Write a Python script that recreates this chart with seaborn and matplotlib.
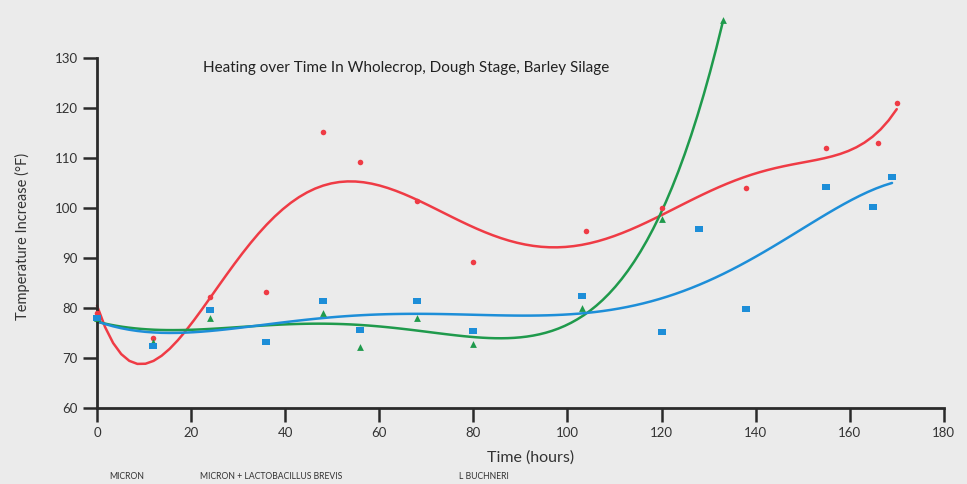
import numpy as np
import pandas as pd
import matplotlib
matplotlib.use("Agg")
import matplotlib.pyplot as plt
import seaborn as sns

# ---- data ----
micron_x = [0, 12, 24, 36, 48, 56, 68, 80, 104, 120, 138, 155, 166, 170]
micron_y = [79, 74, 82.2, 83.2, 115.2, 109.2, 101.4, 89.2, 95.4, 100, 104, 112, 113, 121]

brevis_x = [0, 12, 24, 48, 56, 68, 80, 103, 120, 133]
brevis_y = [78, 73.2, 78, 79, 72.2, 78, 72.8, 80, 97.8, 137.6]

buchneri_x = [0, 12, 24, 36, 48, 56, 68, 80, 103, 120, 128, 138, 155, 165, 169]
buchneri_y = [78, 72.4, 79.6, 73.2, 81.4, 75.6, 81.4, 75.4, 82.4, 75.2, 95.8, 79.8, 104.2, 100.2, 106.2]

series_names = ["MICRON", "MICRON + LACTOBACILLUS BREVIS", "L BUCHNERI"]
x_ticks = [0, 20, 40, 60, 80, 100, 120, 140, 160, 180]
y_ticks = [60, 70, 80, 90, 100, 110, 120, 130]
title = "Heating over Time In Wholecrop, Dough Stage, Barley Silage"

RED = "#ef3b45"
GREEN = "#1f9a4c"
BLUE = "#1d8ed8"
BG = "#ebebeb"
INK = "#2a2a2a"

sns.set_theme(style="ticks")
plt.rcParams["font.family"] = ["Lato", "DejaVu Sans"]

fig = plt.figure(figsize=(9.67, 4.84), dpi=100, facecolor=BG)
ax = fig.add_axes([0.1003, 0.157, 0.8757, 0.723])
ax.set_facecolor(BG)

rect = [(-1, -0.62), (1, -0.62), (1, 0.62), (-1, 0.62), (-1, -0.62)]

frames = [
    (micron_x, micron_y, RED, "o", 16, 6),
    (brevis_x, brevis_y, GREEN, "^", 24, 5),
    (buchneri_x, buchneri_y, BLUE, rect, 34, 6),
]
for xs, ys, col, mk, sz, order in frames:
    df = pd.DataFrame({"x": xs, "y": ys})
    sns.regplot(data=df, x="x", y="y", order=order, ci=None, scatter=False,
                line_kws=dict(color=col, lw=1.8, clip_on=False), ax=ax)
    sns.scatterplot(data=df, x="x", y="y", color=col, marker=mk, s=sz,
                    linewidth=0, ax=ax, clip_on=False, zorder=3)

ax.set_xlim(0, 180)
ax.set_ylim(60, 130)
ax.set_xticks(x_ticks)
ax.set_yticks(y_ticks)
ax.tick_params(axis="both", labelsize=9.5, length=10, width=1.8, color=INK,
               labelcolor="#333333", direction="out", pad=4)
for s in ["top", "right"]:
    ax.spines[s].set_visible(False)
for s in ["left", "bottom"]:
    ax.spines[s].set_color(INK)
    ax.spines[s].set_linewidth(2)

ax.set_xlabel("Time (hours)", fontsize=11.5, color="#333333")
ax.xaxis.set_label_coords(0.512, -0.12)
ax.set_ylabel("Temperature Increase (°F)", fontsize=10.5, color="#333333")
ax.yaxis.set_label_coords(-0.079, 0.49)

ax.text(22.5, 128, title, fontsize=11, color="#222222", ha="left", va="center")

for name, xpos in zip(series_names, [0.113, 0.207, 0.475]):
    fig.text(xpos, 0.0145, name, fontsize=6.2, color="#333333", ha="left", va="center")

fig.savefig("out.png", dpi=100, facecolor=BG)
